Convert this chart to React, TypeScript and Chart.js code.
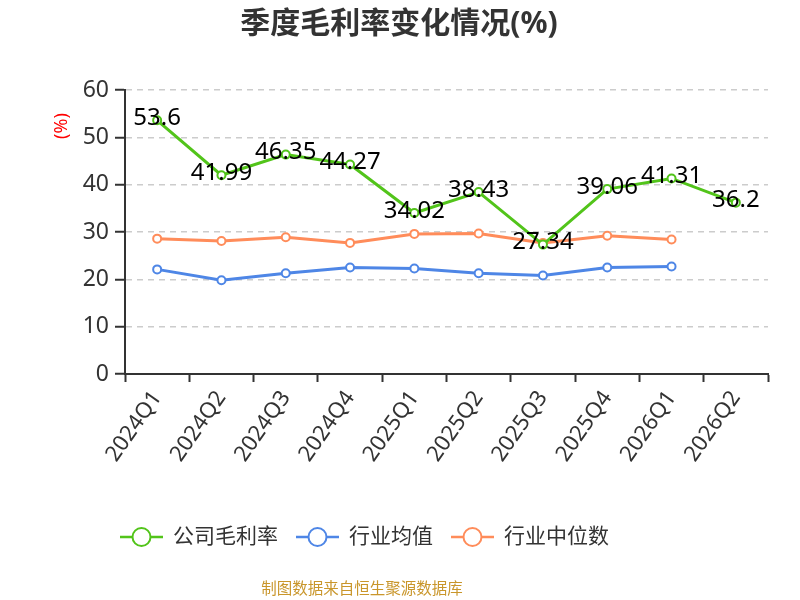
import React, { useEffect, useRef } from 'react';
import { Chart, registerables } from 'chart.js';

Chart.register(...registerables);

const categories = ['2024Q1', '2024Q2', '2024Q3', '2024Q4', '2025Q1', '2025Q2', '2025Q3', '2025Q4', '2026Q1', '2026Q2'];
const companyMargin = [53.6, 41.99, 46.35, 44.27, 34.02, 38.43, 27.34, 39.06, 41.31, 36.2];
const industryAvg = [22.1, 19.8, 21.3, 22.5, 22.3, 21.3, 20.8, 22.5, 22.7, null];
const industryMedian = [28.6, 28.1, 28.9, 27.7, 29.6, 29.7, 27.7, 29.2, 28.4, null];
const seriesNames = ['公司毛利率', '行业均值', '行业中位数'];
const seriesColors = ['#52c41a', '#4e86e6', '#ff8c5a'];
const yMin = 0;
const yMax = 60;
const yStep = 10;
const titleText = '季度毛利率变化情况(%)';
const unitText = '(%)';
const sourceText = '制图数据来自恒生聚源数据库';

const FONT = '"Noto Sans", "Noto Sans CJK SC", sans-serif';

const overlayPlugin = {
  id: 'overlay',
  afterDatasetsDraw(chart: any) {
    const ctx = chart.ctx;
    const meta = chart.getDatasetMeta(0);
    ctx.save();
    ctx.font = `24px ${FONT}`;
    ctx.fillStyle = '#000';
    ctx.textAlign = 'center';
    ctx.textBaseline = 'middle';
    meta.data.forEach((pt: any, i: number) => {
      const v = companyMargin[i];
      if (v == null) return;
      ctx.fillText(String(v), pt.x, pt.y - 2);
    });
    ctx.restore();
  },
  afterDraw(chart: any) {
    const ctx = chart.ctx;
    ctx.save();
    // title
    ctx.font = `bold 30px ${FONT}`;
    ctx.fillStyle = '#333';
    ctx.textAlign = 'center';
    ctx.textBaseline = 'middle';
    ctx.fillText(titleText, 399, 24);
    // unit
    ctx.save();
    ctx.translate(62, 126);
    ctx.rotate(-Math.PI / 2);
    ctx.font = `18px ${FONT}`;
    ctx.fillStyle = '#ff0000';
    ctx.fillText(unitText, 0, 0);
    ctx.restore();
    // legend
    ctx.font = `21px ${FONT}`;
    ctx.textAlign = 'left';
    ctx.textBaseline = 'middle';
    let x = 120;
    const ly = 537;
    seriesNames.forEach((name, i) => {
      const c = seriesColors[i];
      ctx.strokeStyle = c;
      ctx.lineWidth = 2.5;
      ctx.beginPath();
      ctx.moveTo(x, ly);
      ctx.lineTo(x + 43, ly);
      ctx.stroke();
      ctx.beginPath();
      ctx.arc(x + 21.5, ly, 9, 0, Math.PI * 2);
      ctx.fillStyle = '#fff';
      ctx.fill();
      ctx.lineWidth = 2;
      ctx.stroke();
      ctx.fillStyle = '#333';
      ctx.fillText(name, x + 53, ly);
      x += 53 + ctx.measureText(name).width + 18;
    });
    // source
    ctx.font = `15.5px ${FONT}`;
    ctx.fillStyle = '#c9962b';
    ctx.textAlign = 'center';
    ctx.fillText(sourceText, 362, 590);
    ctx.restore();
  },
};

export default function App() {
  const ref = useRef<HTMLCanvasElement | null>(null);
  useEffect(() => {
    if (!ref.current) return;
    const mk = (data: (number | null)[], i: number) => ({
      label: seriesNames[i],
      data,
      borderColor: seriesColors[i],
      backgroundColor: '#fff',
      pointBackgroundColor: '#fff',
      pointBorderColor: seriesColors[i],
      borderWidth: 3,
      pointRadius: 4,
      pointBorderWidth: 2,
      tension: 0,
      spanGaps: false,
    });
    const chart = new Chart(ref.current, {
      type: 'line',
      data: {
        labels: categories,
        datasets: [mk(companyMargin, 0), mk(industryAvg, 1), mk(industryMedian, 2)],
      },
      options: {
        animation: false,
        responsive: false,
        devicePixelRatio: 1,
        layout: { padding: { left: 0, right: 32, top: 90, bottom: 0 } },
        plugins: { legend: { display: false }, title: { display: false }, tooltip: { enabled: false } },
        scales: {
          x: {
            type: 'category',
            offset: true,
            grid: { display: true, drawOnChartArea: false, drawTicks: true, tickLength: 8, tickColor: '#333', tickWidth: 2, offset: true },
            border: { display: true, color: '#333', width: 2 },
            ticks: {
              autoSkip: false,
              minRotation: 55,
              maxRotation: 55,
              color: '#333',
              padding: 4,
              font: { size: 22, family: FONT },
            },
            afterFit: (s: any) => { s.height = 226; },
          },
          y: {
            min: yMin,
            max: yMax,
            grid: { color: '#cccccc', lineWidth: 1.5, tickColor: '#333', tickLength: 10, tickWidth: 2 },
            border: { display: true, color: '#333', width: 2, dash: [6, 5] },
            ticks: { stepSize: yStep, color: '#333', padding: 6, font: { size: 23, family: FONT } },
            afterFit: (s: any) => { s.width = 125; },
          },
        },
      },
      plugins: [overlayPlugin],
    } as any);
    return () => chart.destroy();
  }, []);
  return (
    <div style={{ position: 'fixed', left: 0, top: 0, width: 800, height: 600, background: '#fff' }}>
      <canvas ref={ref} width={800} height={600} style={{ width: 800, height: 600 }} />
    </div>
  );
}
